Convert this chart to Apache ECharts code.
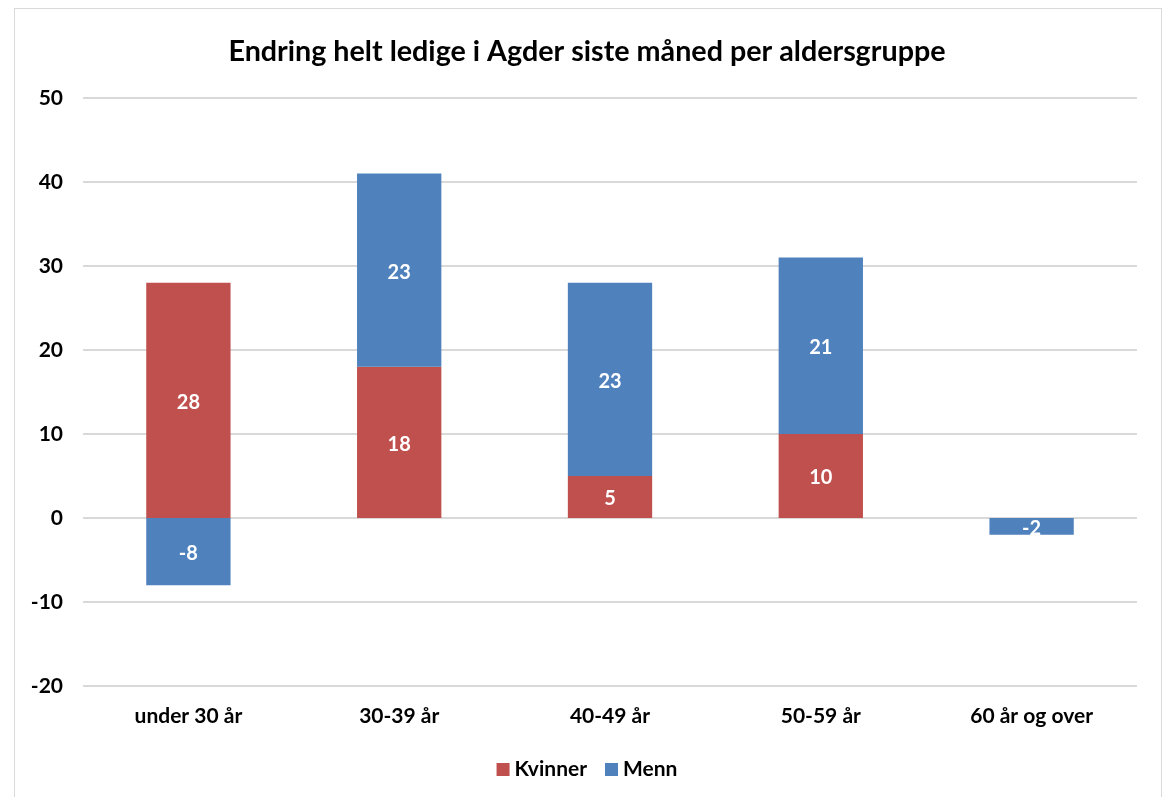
<!DOCTYPE html>
<html><head><meta charset="utf-8">
<script src="https://cdn.jsdelivr.net/npm/echarts@6/dist/echarts.min.js"></script>
<style>html,body{margin:0;padding:0;background:#fff}#c{width:1174px;height:797px}
#frame{position:absolute;left:14px;top:8px;width:1148px;height:800px;border:1.5px solid #d9d9d9;box-sizing:border-box;pointer-events:none}</style>
</head><body><div id="c"></div><div id="frame"></div>
<script>
const categories = ['under 30 år', '30-39 år', '40-49 år', '50-59 år', '60 år og over'];
const kvinner = [28, 18, 5, 10, 0];
const menn = [-8, 23, 23, 21, -2];
const yTicks = {min: -20, max: 50, interval: 10};

const font = 'Lato, "Open Sans", sans-serif';
const chart = echarts.init(document.getElementById('c'));
const lbl = {
  show: true, position: 'inside', color: '#fff', fontWeight: 'bold', fontSize: 20, fontFamily: font,
  offset: [0, 2],
  formatter: p => p.value === 0 ? '' : String(p.value)
};
chart.setOption({
  animation: false,
  title: {text: 'Endring helt ledige i Agder siste måned per aldersgruppe', left: 'center', top: 32,
    textStyle: {fontFamily: font, fontWeight: 'bold', fontSize: 28.7, color: '#000'}},
  grid: {left: 83, right: 37, top: 98, bottom: 111, containLabel: false, outerBoundsMode: 'none'},
  legend: {bottom: 12, left: 'center', itemWidth: 13, itemHeight: 13, itemGap: 18, icon: 'rect',
    textStyle: {fontFamily: font, fontWeight: 'bold', fontSize: 21, color: '#000'},
    data: ['Kvinner', 'Menn']},
  xAxis: {type: 'category', data: categories,
    axisLine: {show: false, onZero: false},
    axisTick: {show: false},
    axisLabel: {fontFamily: font, fontWeight: 'bold', fontSize: 21, color: '#000', margin: 20}},
  yAxis: {type: 'value', min: yTicks.min, max: yTicks.max, interval: yTicks.interval,
    axisLine: {show: false}, axisTick: {show: false},
    axisLabel: {fontFamily: font, fontWeight: 'bold', fontSize: 21, color: '#000', margin: 20, align: 'right'},
    splitLine: {lineStyle: {color: '#d9d9d9', width: 2}}},
  series: [
    {name: 'Kvinner', type: 'bar', stack: 'a', data: kvinner, barWidth: '40%',
      itemStyle: {color: '#C0504D'}, label: lbl},
    {name: 'Menn', type: 'bar', stack: 'a', data: menn, barWidth: '40%',
      itemStyle: {color: '#4F81BD'}, label: lbl}
  ]
});
</script></body></html>
